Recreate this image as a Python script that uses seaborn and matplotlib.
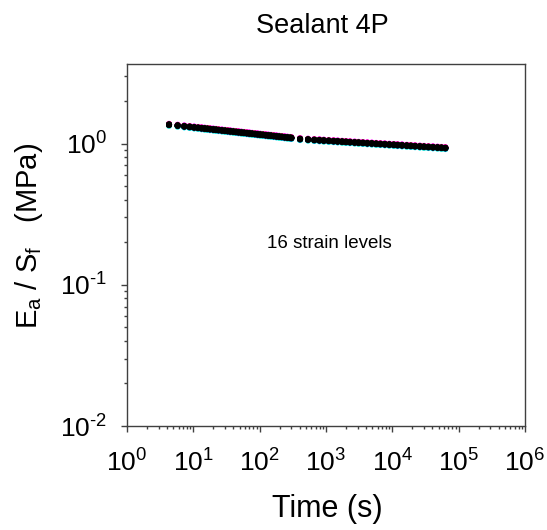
import numpy as np
import pandas as pd
import matplotlib
matplotlib.use("Agg")
import matplotlib.pyplot as plt
import seaborn as sns
from matplotlib.ticker import LogLocator, NullFormatter, FixedLocator, FixedFormatter

# ---- data ----
# relaxation time (s), segment 1 then segment 2
time_s = [4.3, 5.8, 7.3, 8.8, 10.3, 11.8, 13.3, 14.8, 16.3, 17.8, 20, 22, 24, 27, 30,
          33, 36, 40, 44, 48, 53, 58, 64, 70, 77, 85, 93, 102, 112, 123, 135, 148,
          163, 179, 197, 216, 238, 262, 288, 300,
          406, 536, 666, 796, 926, 1100, 1300, 1500, 1750, 2000, 2300, 2700, 3100,
          3600, 4200, 4900, 5700, 6600, 7700, 9000, 10500, 12000, 14000, 16500,
          19000, 22000, 26000, 30000, 35000, 41000, 48000, 55000, 63000]
# Ea / Sf (MPa) of the central (black) curve
base_modulus = [1.361, 1.341, 1.325, 1.313, 1.302, 1.293, 1.285, 1.278, 1.272, 1.266,
                1.259, 1.253, 1.247, 1.240, 1.233, 1.227, 1.222, 1.215, 1.209, 1.204,
                1.198, 1.192, 1.186, 1.181, 1.175, 1.169, 1.164, 1.158, 1.153, 1.147,
                1.142, 1.137, 1.131, 1.126, 1.120, 1.115, 1.109, 1.104, 1.099, 1.096,
                1.077, 1.068, 1.061, 1.056, 1.051, 1.046, 1.041, 1.037, 1.032, 1.028,
                1.024, 1.019, 1.015, 1.011, 1.006, 1.002, 0.997, 0.993, 0.989, 0.984,
                0.980, 0.976, 0.972, 0.967, 0.963, 0.959, 0.954, 0.950, 0.946, 0.942,
                0.938, 0.934, 0.930]
# 16 strain levels: relative shift of each curve and its colour (black drawn last, on top)
strain_levels = [f"level {i}" for i in range(1, 17)]
strain_factors = [0.983, 1.014, 0.989, 1.010, 0.986, 1.006, 0.994, 1.004,
                  0.996, 1.003, 0.997, 1.002, 0.998, 1.001, 0.999, 1.000]
strain_colors = ["#00e5ff", "#ff00ff", "#ffff00", "#e000e0", "#00e0f0", "#ff0000",
                 "#0000ff", "#c0c000", "#006060", "#202080", "#303030", "#200020",
                 "#002020", "#101010", "#080808", "#000000"]

x_ticks = [1e0, 1e1, 1e2, 1e3, 1e4, 1e5, 1e6]
x_labels = [r"10$^{0}$", r"10$^{1}$", r"10$^{2}$", r"10$^{3}$", r"10$^{4}$", r"10$^{5}$", r"10$^{6}$"]
y_ticks = [1e-2, 1e-1, 1e0]
y_labels = [r"10$^{\text{-2}}$", r"10$^{\text{-1}}$", r"10$^{0}$"]

rows = []
for lev, f in zip(strain_levels, strain_factors):
    for t, v in zip(time_s, base_modulus):
        rows.append({"time": t, "modulus": v * f, "level": lev})
df = pd.DataFrame(rows)

sns.set_theme(style="white")
plt.rcParams["font.family"] = ["Liberation Sans", "DejaVu Sans"]
plt.rcParams["mathtext.fontset"] = "custom"
plt.rcParams["mathtext.rm"] = "Liberation Sans"
plt.rcParams["mathtext.it"] = "Liberation Sans:italic"
plt.rcParams["mathtext.bf"] = "Liberation Sans:bold"
plt.rcParams["text.color"] = "black"
plt.rcParams["xtick.color"] = "#404040"
plt.rcParams["ytick.color"] = "#404040"
plt.rcParams["xtick.labelcolor"] = "black"
plt.rcParams["ytick.labelcolor"] = "black"

fig = plt.figure(figsize=(5.47, 5.30), dpi=100)
ax = fig.add_axes([127 / 547, 1 - 426 / 530, 398 / 547, 362 / 530])

sns.scatterplot(data=df, x="time", y="modulus", hue="level",
                palette=dict(zip(strain_levels, strain_colors)),
                s=19, linewidth=0, legend=False, ax=ax)

ax.set_xscale("log")
ax.set_yscale("log")
ax.set_xlim(1, 1e6)
ax.set_ylim(0.01, 3.66)

ax.xaxis.set_major_locator(FixedLocator(x_ticks))
ax.xaxis.set_major_formatter(FixedFormatter(x_labels))
ax.yaxis.set_major_locator(FixedLocator(y_ticks))
ax.yaxis.set_major_formatter(FixedFormatter(y_labels))
ax.xaxis.set_minor_locator(LogLocator(base=10, subs=np.arange(2, 10), numticks=20))
ax.yaxis.set_minor_locator(LogLocator(base=10, subs=np.arange(2, 10), numticks=20))
ax.xaxis.set_minor_formatter(NullFormatter())
ax.yaxis.set_minor_formatter(NullFormatter())

ax.tick_params(which="both", direction="out", bottom=True, left=True, top=False, right=False,
               width=1)
ax.tick_params(which="major", length=4.5, labelsize=19)
ax.tick_params(axis="x", which="major", pad=12)
ax.tick_params(axis="y", which="major", pad=10)
ax.tick_params(which="minor", length=2.5)

for sp in ax.spines.values():
    sp.set_color("#404040")
    sp.set_linewidth(1)

ax.set_xlabel("")
ax.set_ylabel("")
fig.text(327 / 547, 1 - 517 / 530, "Time (s)", ha="center", va="baseline", fontsize=22)
fig.text(29 / 547, 1 - 236 / 530, r"E$_\mathregular{a}$ / S$_\mathregular{f}$   (MPa)",
         ha="center", va="center", rotation=90, fontsize=21)
fig.text(322 / 547, 1 - 33 / 530, "Sealant 4P", ha="center", va="baseline", fontsize=19.5)
fig.text(329 / 547, 1 - 248 / 530, "16 strain levels", ha="center", va="baseline",
         fontsize=13.5)

fig.savefig("out.png", dpi=100)
